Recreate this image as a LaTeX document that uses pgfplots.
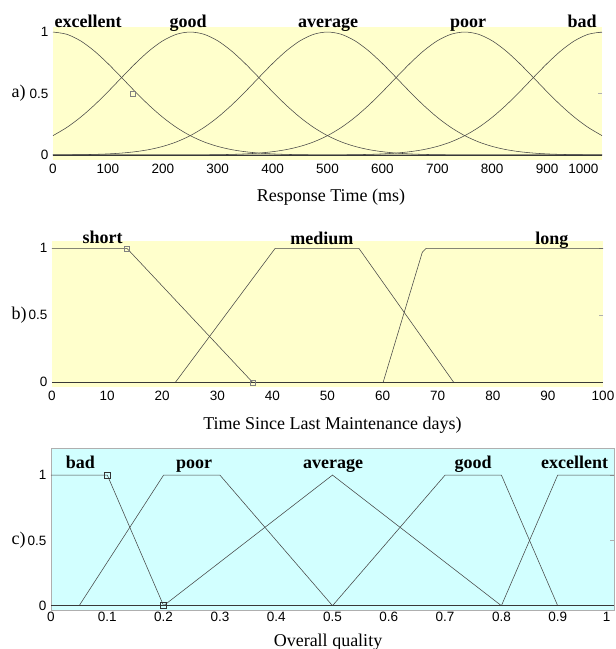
\documentclass[border=0pt]{standalone}
\usepackage{pgfplots}
\pgfplotsset{compat=1.18}
\usepackage{pgfplotstable}
\usepackage{fontspec}
\setmainfont{Liberation Serif}
\newfontfamily\tickfont{Liberation Sans}
\definecolor{ybg}{RGB}{255,255,204}
\definecolor{cbg}{RGB}{210,255,255}
\definecolor{mf}{RGB}{70,70,70}
\definecolor{frame}{RGB}{175,175,175}

\pgfplotstableread{
x e g a p b
0 1 0.1574 0.0006 0 0
25 0.9817 0.2236 0.0013 0 0
50 0.9287 0.3062 0.0025 0 0
75 0.8467 0.4041 0.0048 0 0
100 0.7439 0.5139 0.0088 0 0
125 0.6298 0.6298 0.0156 0 0
150 0.5139 0.7439 0.0267 0 0
175 0.4041 0.8467 0.0439 0 0
200 0.3062 0.9287 0.0698 0 0
225 0.2236 0.9817 0.1067 0 0
250 0.1574 1 0.1574 0.0006 0
275 0.1067 0.9817 0.2236 0.0013 0
300 0.0698 0.9287 0.3062 0.0025 0
325 0.0439 0.8467 0.4041 0.0048 0
350 0.0267 0.7439 0.5139 0.0088 0
375 0.0156 0.6298 0.6298 0.0156 0
400 0.0088 0.5139 0.7439 0.0267 0
425 0.0048 0.4041 0.8467 0.0439 0
450 0.0025 0.3062 0.9287 0.0698 0
475 0.0013 0.2236 0.9817 0.1067 0
500 0.0006 0.1574 1 0.1574 0.0006
525 0 0.1067 0.9817 0.2236 0.0013
550 0 0.0698 0.9287 0.3062 0.0025
575 0 0.0439 0.8467 0.4041 0.0048
600 0 0.0267 0.7439 0.5139 0.0088
625 0 0.0156 0.6298 0.6298 0.0156
650 0 0.0088 0.5139 0.7439 0.0267
675 0 0.0048 0.4041 0.8467 0.0439
700 0 0.0025 0.3062 0.9287 0.0698
725 0 0.0013 0.2236 0.9817 0.1067
750 0 0.0006 0.1574 1 0.1574
775 0 0 0.1067 0.9817 0.2236
800 0 0 0.0698 0.9287 0.3062
825 0 0 0.0439 0.8467 0.4041
850 0 0 0.0267 0.7439 0.5139
875 0 0 0.0156 0.6298 0.6298
900 0 0 0.0088 0.5139 0.7439
925 0 0 0.0048 0.4041 0.8467
950 0 0 0.0025 0.3062 0.9287
975 0 0 0.0013 0.2236 0.9817
1000 0 0 0.0006 0.1574 1
}\tabA

\tikzset{
  mfl/.style={mf, line width=0.55pt},
  basel/.style={mf!80!black, line width=0.9pt},
  lab/.style={anchor=base, font=\bfseries\fontsize{18}{20}\selectfont},
}
\pgfplotsset{
  common/.style={
    scale only axis, clip=false,
    ticklabel style={font=\tickfont\fontsize{13.5}{15}\selectfont},
    /pgf/number format/assume math mode=true,
    /pgf/number format/1000 sep={},
    xtick style={draw=none},
    ytick pos=right, yticklabel pos=left,
    ytick style={draw=frame, line width=0.6pt},
    major tick length=4pt, tick align=inside,
    ytick={0,0.5,1},
    yticklabel style={xshift=-1pt},
    extra x tick style={xtick style={draw=none}, grid=none,
      xticklabel style={anchor=north east, xshift=0pt}},
  },
}

\begin{document}
\begin{tikzpicture}
\useasboundingbox (0pt,0pt) rectangle (616pt,-649pt);

% ---------- a) ----------
\begin{axis}[common,
  at={(53pt,-159.9pt)}, anchor=south west,
  width=549pt, height=132.8pt,
  xmin=0, xmax=1000, ymin=-0.04, ymax=1.04,
  axis background/.style={fill=ybg},
  axis line style={draw=none},
  xtick={0,100,...,900},
  extra x ticks={1000},
  xticklabel style={yshift=-1pt},
]
\addplot[mfl, no marks, smooth] table[x=x,y=e]{\tabA};
\addplot[mfl, no marks, smooth] table[x=x,y=g]{\tabA};
\addplot[mfl, no marks, smooth] table[x=x,y=a]{\tabA};
\addplot[mfl, no marks, smooth] table[x=x,y=p]{\tabA};
\addplot[mfl, no marks, smooth] table[x=x,y=b]{\tabA};
\addplot[basel, no marks] coordinates {(0,0) (1000,0)};
\addplot[only marks, mark=square, mark size=2.5pt, gray, line width=0.5pt] coordinates {(145,0.5)};
\node[lab] at (axis cs:64,1.04) {excellent};
\node[lab] at (axis cs:246,1.04) {good};
\node[lab] at (axis cs:501,1.04) {average};
\node[lab] at (axis cs:756,1.04) {poor};
\node[lab] at (axis cs:964,1.04) {bad};
\end{axis}
\node[anchor=west, font=\fontsize{18}{20}\selectfont] at (8pt,-93pt) {a)};
\node[anchor=base, font=\fontsize{18}{20}\selectfont] at (331pt,-201.5pt) {Response Time (ms)};

% ---------- b) ----------
\begin{axis}[common,
  at={(52pt,-386.7pt)}, anchor=south west,
  width=551pt, height=146pt,
  xmin=0, xmax=100, ymin=-0.033, ymax=1.057,
  axis background/.style={fill=ybg},
  axis line style={draw=none},
  xtick={0,10,...,100},
  xticklabel style={yshift=-1pt},
]
\addplot[mfl, no marks] coordinates {(0,1) (13.6,1) (36.4,0)};
\addplot[mfl, no marks] coordinates {(22.4,0) (40.5,1) (55.7,1) (72.9,0)};
\addplot[mfl, no marks] coordinates {(60.1,0) (67.2,0.97) (67.9,1) (100,1)};
\addplot[basel, no marks] coordinates {(0,0) (100,0)};
\addplot[only marks, mark=square, mark size=2.5pt, gray, line width=0.5pt] coordinates {(13.6,1) (36.4,0)};
\node[lab] at (axis cs:9.2,1.035) {short};
\node[lab] at (axis cs:49,1.03) {medium};
\node[lab] at (axis cs:90.7,1.03) {long};
\end{axis}
\node[anchor=west, font=\fontsize{18}{20}\selectfont] at (8pt,-315pt) {b)};
\node[anchor=base, font=\fontsize{18}{20}\selectfont] at (332.5pt,-429pt) {Time Since Last Maintenance days)};

% ---------- c) ----------
\begin{axis}[common,
  at={(51pt,-610pt)}, anchor=south west,
  width=563pt, height=161.7pt,
  xmin=0, xmax=1, ymin=-0.033, ymax=1.205,
  axis background/.style={fill=cbg},
  axis line style={draw=frame, line width=0.8pt},
  xtick={0,0.1,0.2,0.3,0.4,0.5,0.6,0.7,0.8,0.9},
  extra x ticks={1},
  xticklabel style={yshift=1pt},
]
\addplot[mfl, no marks] coordinates {(0,1) (0.1,1) (0.2,0)};
\addplot[mfl, no marks] coordinates {(0.05,0) (0.2,1) (0.3,1) (0.5,0)};
\addplot[mfl, no marks] coordinates {(0.2,0) (0.5,1) (0.8,0)};
\addplot[mfl, no marks] coordinates {(0.5,0) (0.7,1) (0.8,1) (0.9,0)};
\addplot[mfl, no marks] coordinates {(0.8,0) (0.9,1) (1,1)};
\addplot[basel, no marks] coordinates {(0,0) (1,0)};
\addplot[only marks, mark=square, mark size=3pt, black!80, line width=0.6pt] coordinates {(0.1,1) (0.2,0)};
\node[lab] at (axis cs:0.052,1.05) {bad};
\node[lab] at (axis cs:0.254,1.05) {poor};
\node[lab] at (axis cs:0.501,1.05) {average};
\node[lab] at (axis cs:0.75,1.05) {good};
\node[lab] at (axis cs:0.93,1.05) {excellent};
\end{axis}
\node[anchor=west, font=\fontsize{18}{20}\selectfont] at (8pt,-540pt) {c)};
\node[anchor=base, font=\fontsize{18}{20}\selectfont] at (328pt,-646pt) {Overall quality};
\end{tikzpicture}
\end{document}
